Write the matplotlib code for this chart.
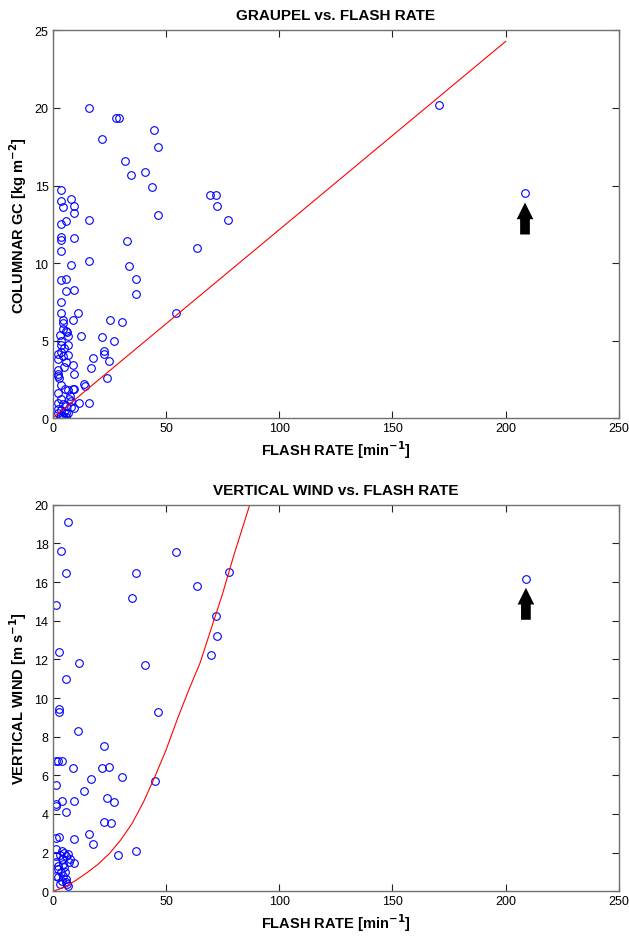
import numpy as np
import matplotlib
matplotlib.use('Agg')
import matplotlib.pyplot as plt

plt.rcParams['font.family'] = ['Liberation Sans', 'DejaVu Sans']

# graupel (columnar GC) vs flash rate
gc_flash = [16.0, 21.8, 27.9, 29.1, 44.8, 46.7, 31.9, 40.6, 34.7, 43.7, 46.7, 69.4, 71.9, 72.6,
            77.6, 32.6, 33.5, 36.9, 36.9, 63.8, 54.4, 170.4, 208.5,
            3.8, 3.8, 7.9, 4.6, 9.6, 9.6, 5.9, 3.8, 15.9, 3.8, 3.8, 9.6, 3.8, 15.9, 7.9, 3.8,
            5.9, 5.9, 9.6, 3.8, 3.8, 11.0, 8.8, 4.6, 4.6, 4.6, 5.9, 6.9, 12.5, 25.4, 30.6, 21.8,
            26.9, 22.6, 22.6, 24.7, 17.6, 16.8, 23.8, 13.7, 14.4, 15.9, 11.8,
            3.8, 3.8, 3.8, 2.5, 2.5, 5.1, 6.9, 6.9, 5.9, 8.8, 9.6, 2.5, 2.5, 2.5, 2.8, 3.8, 2.5,
            6.9, 8.8, 9.6, 3.8, 7.6, 2.5, 4.6, 5.9, 7.9, 9.6, 2.5, 3.8, 5.0, 5.9, 3.8, 4.7, 5.9,
            2.5, 6.9, 5.4, 6.2, 3.2, 4.5, 5.0, 3.0, 7.0, 8.2]
gc_value = [20.0, 18.0, 19.35, 19.35, 18.6, 17.5, 16.6, 15.9, 15.7, 14.9, 13.1, 14.4, 14.4, 13.7,
            12.8, 11.4, 9.8, 9.0, 8.0, 11.0, 6.8, 20.2, 14.5,
            14.7, 14.0, 14.1, 13.6, 13.7, 13.2, 12.7, 12.5, 12.8, 11.7, 11.5, 11.6, 10.75, 10.1, 9.85, 8.9,
            9.0, 8.2, 8.25, 7.5, 6.8, 6.8, 6.3, 6.3, 6.15, 5.75, 5.6, 5.3, 5.3, 6.35, 6.2, 5.2,
            4.95, 4.35, 4.15, 3.7, 3.9, 3.2, 2.55, 2.2, 2.05, 1.0, 1.0,
            5.0, 4.7, 4.25, 4.1, 3.8, 4.5, 4.7, 4.05, 3.6, 3.4, 2.85, 3.1, 2.85, 2.7, 2.55, 2.15, 1.6,
            1.8, 1.9, 1.9, 1.25, 1.45, 1.0, 0.9, 0.8, 0.7, 0.65, 0.6, 0.5, 0.4, 0.3, 0.2, 0.1, 0.05,
            0.3, 0.3, 1.9, 5.55, 5.33, 4.0, 3.3, 0.0, 1.2, 1.1]

# fitted line
gc_fit_x = [0, 200]
gc_fit_y = [0.0, 24.3]

# vertical wind vs flash rate
w_flash = [6.9, 3.8, 5.9, 1.6, 2.9, 11.8, 5.9, 2.9, 2.9, 11.0, 1.6, 2.5, 4.1, 8.8, 1.6, 1.6, 1.6,
           4.1, 5.9, 9.6, 16.9, 13.8, 22.6, 21.8, 24.9, 30.7, 24.0, 26.9, 22.5, 25.6, 16.0, 17.6,
           29.0, 36.9, 45.1, 46.6, 40.9, 34.9, 36.9, 54.5, 63.8, 77.8, 71.9, 72.6, 69.7, 208.9,
           9.6, 1.6, 2.9, 1.6, 1.6, 1.6, 2.5, 1.6, 2.5, 4.1, 5.0, 5.9, 6.9, 7.6, 7.0, 9.6, 4.1,
           5.0, 3.8, 4.6, 5.9, 6.5, 6.9, 5.9, 3.0, 4.2, 2.3, 3.2, 4.6, 5.5]
w_value = [19.1, 17.6, 16.45, 14.8, 12.4, 11.8, 11.0, 9.43, 9.3, 8.28, 6.72, 6.72, 6.76, 6.38, 5.52,
           4.53, 4.43, 4.66, 4.09, 4.66, 5.83, 5.2, 7.52, 6.38, 6.45, 5.93, 4.81, 4.6, 3.57, 3.52,
           2.97, 2.43, 1.88, 2.09, 5.72, 9.26, 11.69, 15.16, 16.45, 17.57, 15.78, 16.5, 14.24, 13.2,
           12.24, 16.14,
           2.71, 2.74, 2.83, 2.2, 1.85, 1.5, 1.16, 0.8, 0.72, 2.1, 2.0, 1.85, 1.93, 1.67, 1.5, 1.47,
           1.67, 1.25, 1.0, 0.8, 0.64, 0.38, 0.3, 0.5, 0.4, 0.55, 1.3, 1.9, 1.4, 1.0]

# fitted curve
w_fit_x = [0, 5, 10, 15, 20, 25, 30, 35, 40, 45, 50, 55, 60, 65, 70, 75, 80, 87]
w_fit_y = [0.0, 0.2, 0.55, 0.95, 1.4, 1.95, 2.65, 3.5, 4.6, 5.9, 7.3, 8.9, 10.4, 11.8, 13.6,
           15.4, 17.4, 20.0]

# outlier marked by an arrow (x, tip y)
gc_arrow = (208.5, 13.9)
w_arrow = (208.9, 15.7)


def style_axes(ax, yticks):
    ax.set_xlim(0, 250)
    ax.set_xticks(np.arange(0, 251, 50))
    ax.set_yticks(yticks)
    ax.set_ylim(yticks[0], yticks[-1])
    ax.tick_params(direction='in', length=5, width=0.8, top=True, right=True,
                   labelsize=9, pad=3, color='#222222')
    for s in ax.spines.values():
        s.set_color('#707070')
        s.set_linewidth(1.0)


def draw_arrow(ax, pos):
    ax.annotate('', xy=pos, xytext=(0, -23), textcoords='offset points',
                xycoords='data',
                arrowprops=dict(arrowstyle='simple,head_length=1.2,head_width=1.2,tail_width=0.7',
                                mutation_scale=10, color='black', lw=0,
                                shrinkA=0, shrinkB=0))


fig = plt.figure(figsize=(6.29, 9.37), dpi=100)
ax1 = fig.add_axes([0.0838, 0.5528, 0.9003, 0.4136])
ax2 = fig.add_axes([0.0838, 0.0477, 0.9003, 0.4126])

ax1.plot(gc_flash, gc_value, 'o', mfc='none', mec='#0000ff', ms=5.5, mew=0.8)
ax1.plot(gc_fit_x, gc_fit_y, color='#ff0000', lw=0.8)
style_axes(ax1, np.arange(0, 26, 5))
ax1.set_title('GRAUPEL vs. FLASH RATE', fontsize=11, fontweight='bold', pad=8)
ax1.set_xlabel('FLASH RATE [min$^{\\mathbf{-1}}$]', fontsize=10.5, fontweight='bold', labelpad=3)
ax1.set_ylabel('COLUMNAR GC [kg m$^{\\mathbf{-2}}$]', fontsize=10.5, fontweight='bold')
draw_arrow(ax1, gc_arrow)

ax2.plot(w_flash, w_value, 'o', mfc='none', mec='#0000ff', ms=5.5, mew=0.8)
ax2.plot(w_fit_x, w_fit_y, color='#ff0000', lw=0.8)
style_axes(ax2, np.arange(0, 21, 2))
ax2.set_title('VERTICAL WIND vs. FLASH RATE', fontsize=11, fontweight='bold', pad=8)
ax2.set_xlabel('FLASH RATE [min$^{\\mathbf{-1}}$]', fontsize=10.5, fontweight='bold', labelpad=3)
ax2.set_ylabel('VERTICAL WIND [m s$^{\\mathbf{-1}}$]', fontsize=10.5, fontweight='bold')
draw_arrow(ax2, w_arrow)

fig.savefig('out.png', dpi=100)
